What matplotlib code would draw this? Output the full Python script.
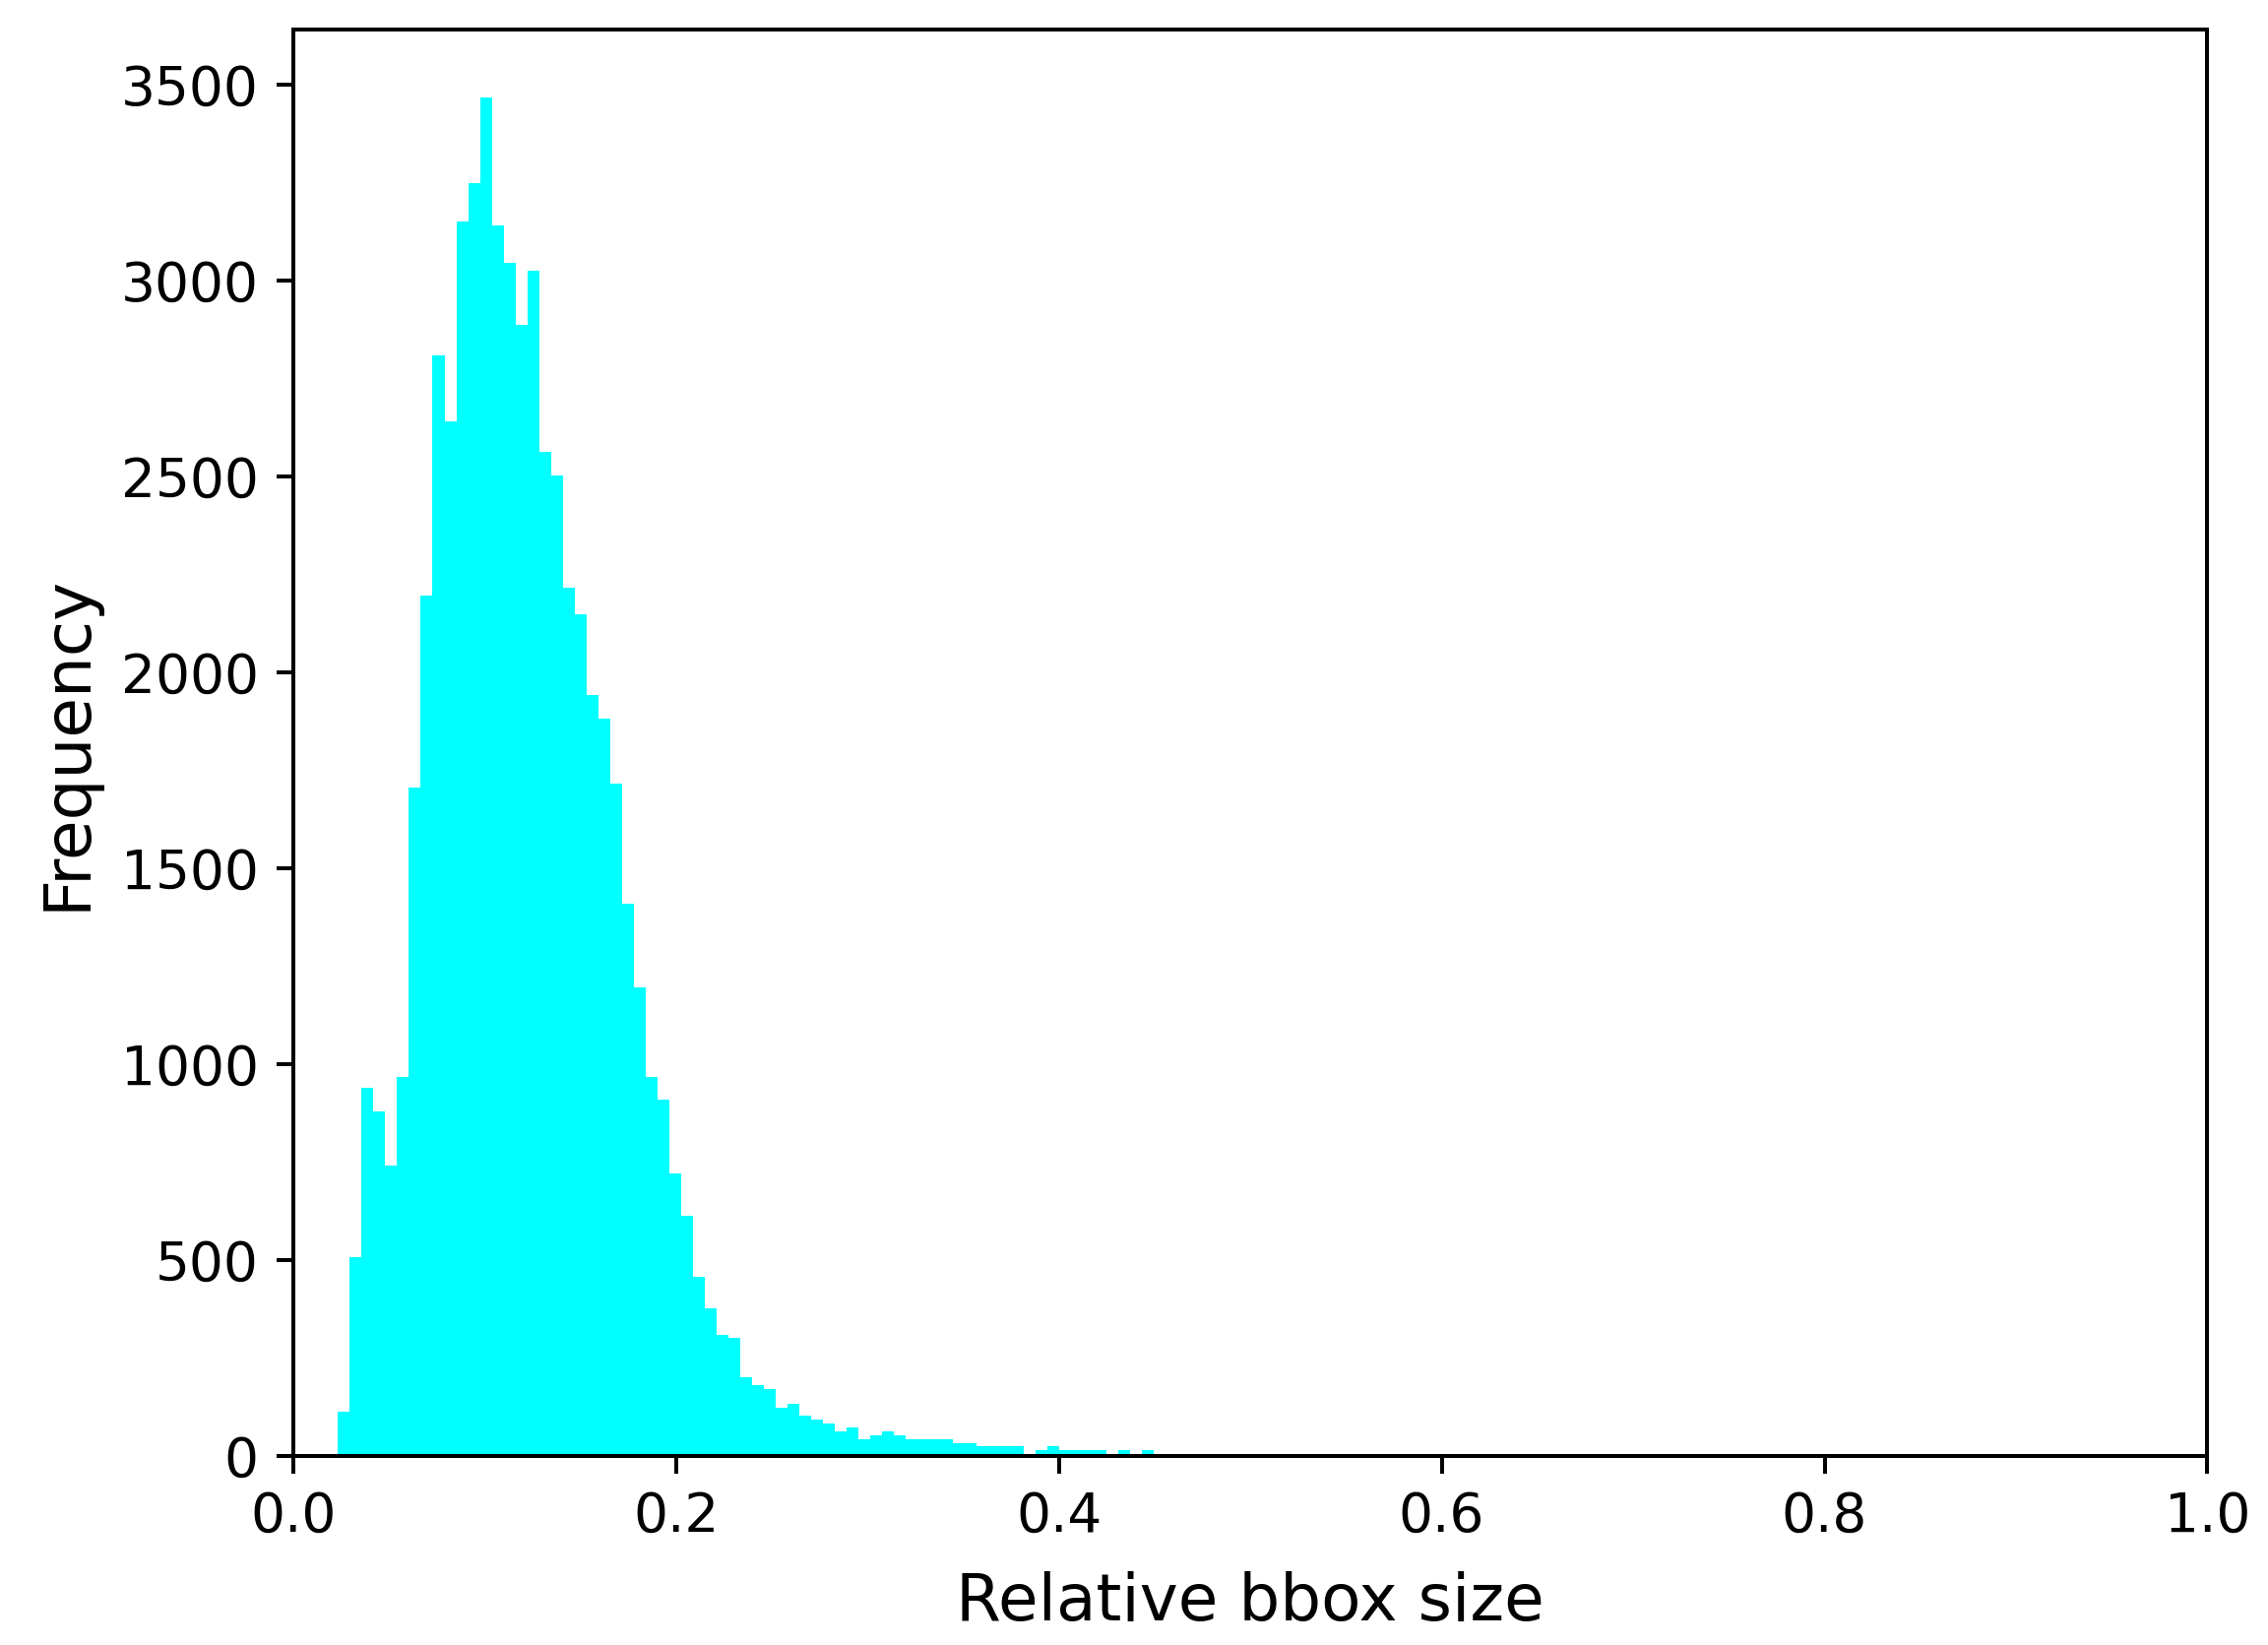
import numpy as np
import matplotlib
matplotlib.use('Agg')
import matplotlib.pyplot as plt

# histogram of relative bbox sizes, counts
bin_start = 0.0235
bin_width = 0.006178
counts = [113, 507, 939, 879, 742, 968, 1706, 2197, 2808, 2640,
          3151, 3249, 3467, 3141, 3044, 2887, 3024, 2562, 2503, 2217,
          2149, 1941, 1883, 1716, 1410, 1195, 968, 909, 722, 614,
          457, 378, 309, 301, 200, 182, 172, 123, 133, 103,
          93, 83, 63, 73, 43, 53, 63, 53, 43, 43,
          43, 43, 33, 33, 24, 24, 24, 24, 0, 14,
          24, 14, 14, 14, 14, 0, 14, 0, 14]

x_ticks = [0.0, 0.2, 0.4, 0.6, 0.8, 1.0]

edges = bin_start + bin_width * np.arange(len(counts) + 1)

fig = plt.figure(figsize=(6.4, 1671 / 360), dpi=360)
ax = fig.add_subplot(111)
fig.subplots_adjust(left=0.1292, right=0.9733, top=0.982, bottom=0.1149)

ax.stairs(counts, edges, fill=True, color='#00ffff', linewidth=0)

ax.set_xlim(0, 1)
ax.set_xticks(x_ticks)
ax.tick_params(labelsize=11)
ax.set_xlabel('Relative bbox size', fontsize=13.2, labelpad=5.5)
ax.set_ylabel('Frequency', fontsize=13.2, labelpad=4.5)

fig.savefig('out.png', dpi=360)
